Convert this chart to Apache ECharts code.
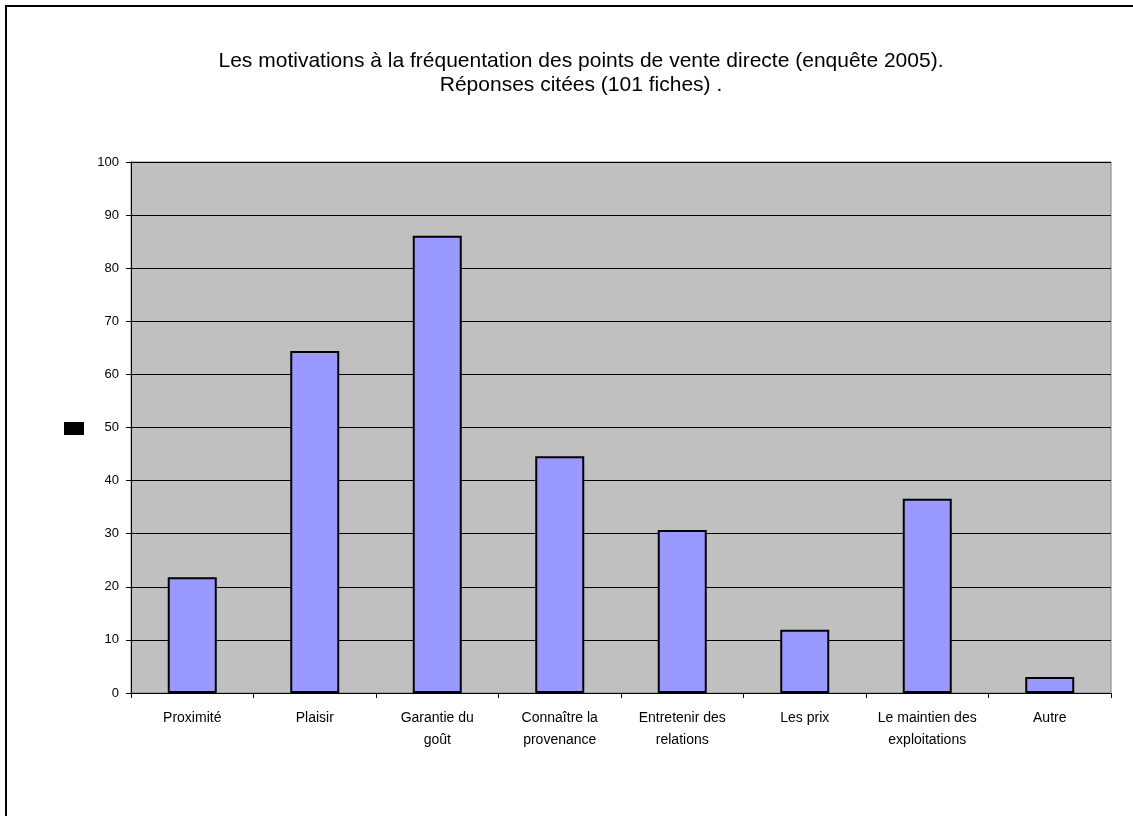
<!DOCTYPE html>
<html>
<head>
<meta charset="utf-8">
<script src="https://cdn.jsdelivr.net/npm/echarts@6/dist/echarts.min.js"></script>
<style>
html,body{margin:0;padding:0;background:#fff;}
#chart{width:1133px;height:816px;}
</style>
</head>
<body>
<div id="chart"></div>
<script>
const categories = ['Proximité', 'Plaisir', 'Garantie du\ngoût', 'Connaître la\nprovenance', 'Entretenir des\nrelations', 'Les prix', 'Le maintien des\nexploitations', 'Autre'];
const values = [21.8, 64.4, 86.1, 44.6, 30.7, 11.9, 36.6, 3.0];
const yTicks = { min: 0, max: 100, interval: 10 };
const titleText = 'Les motivations à la fréquentation des points de vente directe (enquête 2005).\nRéponses citées (101 fiches) .';

const chart = echarts.init(document.getElementById('chart'));
const font = '"Liberation Sans", Arial, sans-serif';
chart.setOption({
  animation: false,
  backgroundColor: '#ffffff',
  graphic: [{
    type: 'rect', shape: { x: 6, y: 6, width: 1140, height: 830 },
    style: { fill: 'none', stroke: '#000', lineWidth: 2 }, silent: true
  }],
  title: {
    text: titleText,
    left: 576, top: 44, textAlign: 'center',
    textStyle: { fontFamily: font, fontSize: 21, fontWeight: 'normal', color: '#000', lineHeight: 24, align: 'center' }
  },
  legend: {
    left: 59, top: 417, itemWidth: 20, itemHeight: 13, icon: 'rect',
    data: [{ name: ' ', itemStyle: { color: '#000', borderWidth: 0 } }],
    textStyle: { fontSize: 1 }, selectedMode: false
  },
  grid: {
    left: 131, top: 162, right: 22, bottom: 123,
    show: true, backgroundColor: '#C0C0C0', borderColor: '#808080', borderWidth: 1
  },
  xAxis: {
    type: 'category', data: categories,
    axisLine: { lineStyle: { color: '#000', width: 1 } },
    axisTick: { show: true, alignWithLabel: false, length: 5, lineStyle: { color: '#000' } },
    axisLabel: { fontFamily: font, fontSize: 14, color: '#000', margin: 14, lineHeight: 22, interval: 0 }
  },
  yAxis: {
    type: 'value', min: yTicks.min, max: yTicks.max, interval: yTicks.interval,
    axisLine: { show: true, lineStyle: { color: '#000', width: 1 } },
    axisTick: { show: true, length: 5, lineStyle: { color: '#000' } },
    axisLabel: { fontFamily: font, fontSize: 13, color: '#000', margin: 12 },
    splitLine: { show: true, lineStyle: { color: '#000', width: 1 } }
  },
  series: [{
    name: ' ', type: 'bar', data: values, barWidth: '40%',
    itemStyle: { color: '#9999FF', borderColor: '#000', borderWidth: 2 }
  }]
});
</script>
</body>
</html>
